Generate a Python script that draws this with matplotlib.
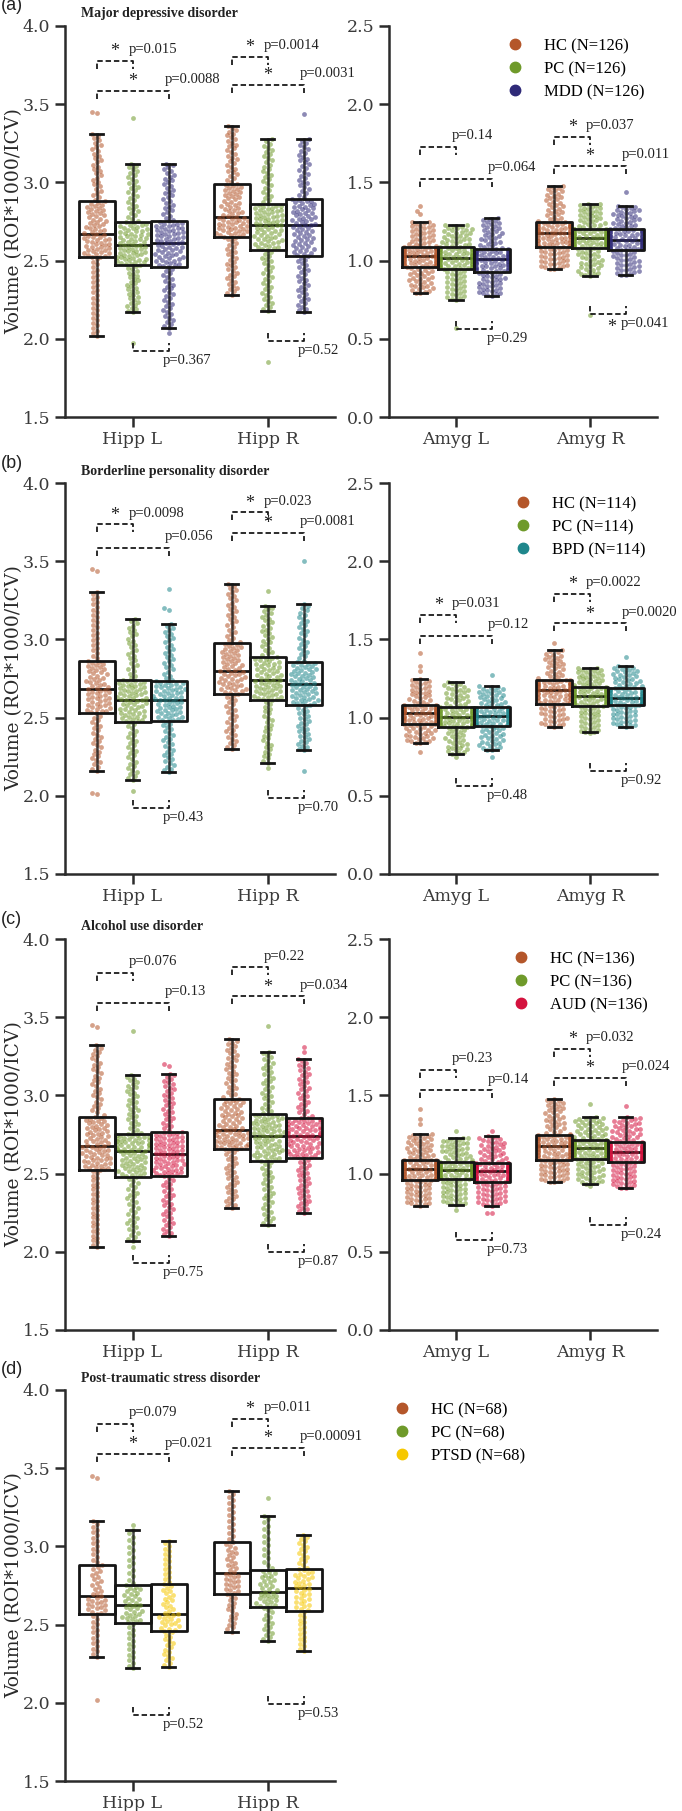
import numpy as np
import matplotlib.pyplot as plt
from matplotlib.lines import Line2D

W, H = 682, 1811

# ---- data ----
panel_letters = ["(a)", "(b)", "(c)", "(d)"]
panel_titles = ["Major depressive disorder", "Borderline personality disorder",
                "Alcohol use disorder", "Post-traumatic stress disorder"]
patient_groups = ["MDD", "BPD", "AUD", "PTSD"]
sample_sizes = [126, 114, 136, 68]
hipp_regions = ["Hipp L", "Hipp R"]
amyg_regions = ["Amyg L", "Amyg R"]

hc_color = "#b4562a"
pc_color = "#6f9a2a"
patient_colors = ["#2f2a78", "#1f878c", "#d4123e", "#f6c800"]

# box stats per group (HC, PC, patient): whisker low, Q1, median, Q3, whisker high
mdd_hipp_l = [(2.02, 2.52, 2.67, 2.88, 3.31), (2.17, 2.47, 2.60, 2.745, 3.12), (2.07, 2.46, 2.615, 2.75, 3.12)]
mdd_hipp_r = [(2.28, 2.65, 2.78, 2.99, 3.36), (2.18, 2.57, 2.725, 2.86, 3.275), (2.17, 2.53, 2.725, 2.895, 3.275)]
mdd_amyg_l = [(0.79, 0.96, 1.03, 1.09, 1.25), (0.75, 0.945, 1.015, 1.085, 1.23), (0.775, 0.93, 1.01, 1.075, 1.27)]
mdd_amyg_r = [(0.945, 1.085, 1.175, 1.25, 1.48), (0.90, 1.08, 1.145, 1.205, 1.365), (0.905, 1.07, 1.13, 1.20, 1.35)]

bpd_hipp_l = [(2.16, 2.53, 2.68, 2.86, 3.305), (2.10, 2.47, 2.615, 2.74, 3.13), (2.15, 2.48, 2.615, 2.735, 3.10)]
bpd_hipp_r = [(2.30, 2.65, 2.80, 2.98, 3.355), (2.21, 2.61, 2.74, 2.89, 3.215), (2.29, 2.58, 2.715, 2.855, 3.225)]
bpd_amyg_l = [(0.835, 0.96, 1.03, 1.08, 1.245), (0.765, 0.94, 1.005, 1.065, 1.225), (0.79, 0.945, 1.01, 1.065, 1.20)]
bpd_amyg_r = [(0.94, 1.09, 1.175, 1.24, 1.43), (0.905, 1.075, 1.14, 1.195, 1.32), (0.94, 1.08, 1.125, 1.19, 1.33)]

aud_hipp_l = [(2.03, 2.52, 2.675, 2.86, 3.32), (2.07, 2.48, 2.645, 2.755, 3.13), (2.10, 2.485, 2.625, 2.765, 3.14)]
aud_hipp_r = [(2.28, 2.655, 2.78, 2.98, 3.36), (2.17, 2.58, 2.74, 2.88, 3.28), (2.25, 2.60, 2.74, 2.855, 3.23)]
aud_amyg_l = [(0.795, 0.96, 1.03, 1.09, 1.255), (0.80, 0.965, 1.025, 1.075, 1.23), (0.795, 0.945, 1.015, 1.07, 1.24)]
aud_amyg_r = [(0.945, 1.09, 1.175, 1.25, 1.48), (0.935, 1.095, 1.165, 1.215, 1.36), (0.905, 1.075, 1.135, 1.20, 1.36)]

ptsd_hipp_l = [(2.295, 2.57, 2.68, 2.88, 3.16), (2.22, 2.51, 2.625, 2.755, 3.105), (2.23, 2.46, 2.57, 2.76, 3.035)]
ptsd_hipp_r = [(2.455, 2.695, 2.83, 3.03, 3.355), (2.395, 2.61, 2.71, 2.85, 3.195), (2.33, 2.59, 2.735, 2.855, 3.075)]

# points outside the whiskers, per group
mdd_out_hipp_l = [[3.45, 3.445], [3.41, 1.97], [2.04]]
mdd_out_hipp_r = [[], [1.85], [3.44]]
mdd_out_amyg_l = [[1.35, 1.32, 1.30], [0.57], []]
mdd_out_amyg_r = [[], [0.65], [1.44]]
bpd_out_hipp_l = [[3.45, 3.44, 2.02, 2.01], [2.03], [3.32, 3.20, 3.19]]
bpd_out_hipp_r = [[], [3.31, 2.18], [3.50, 2.16]]
bpd_out_amyg_l = [[1.41, 1.33, 1.30, 0.78], [0.75], [1.27, 0.75]]
bpd_out_amyg_r = [[1.475], [0.90], [1.39]]
aud_out_hipp_l = [[3.45, 3.44], [3.41, 2.03], [3.20, 3.19]]
aud_out_hipp_r = [[], [3.445], [3.31, 3.28]]
aud_out_amyg_l = [[1.41, 1.35, 1.32], [1.27, 0.77], [1.27, 0.75, 0.75]]
aud_out_amyg_r = [[], [1.445, 0.92], [1.435]]
ptsd_out_hipp_l = [[3.45, 3.44, 2.02], [3.14], []]
ptsd_out_hipp_r = [[], [3.31], []]

# comparison brackets: (level, p text) for HC-PC, HC-patient, PC-patient
mdd_br_hipp_l = [(3.776, "p=0.015"), (3.586, "p=0.0088"), (1.922, "p=0.367")]
mdd_br_hipp_r = [(3.804, "p=0.0014"), (3.623, "p=0.0031"), (1.988, "p=0.52")]
mdd_br_amyg_l = [(1.728, "p=0.14"), (1.522, "p=0.064"), (0.563, "p=0.29")]
mdd_br_amyg_r = [(1.792, "p=0.037"), (1.605, "p=0.011"), (0.659, "p=0.041")]
bpd_br_hipp_l = [(3.736, "p=0.0098"), (3.586, "p=0.056"), (1.920, "p=0.43")]
bpd_br_hipp_r = [(3.812, "p=0.023"), (3.682, "p=0.0081"), (1.984, "p=0.70")]
bpd_br_amyg_l = [(1.656, "p=0.031"), (1.522, "p=0.12"), (0.565, "p=0.48")]
bpd_br_amyg_r = [(1.790, "p=0.0022"), (1.603, "p=0.0020"), (0.659, "p=0.92")]
aud_br_hipp_l = [(3.783, "p=0.076"), (3.591, "p=0.13"), (1.928, "p=0.75")]
aud_br_hipp_r = [(3.818, "p=0.22"), (3.633, "p=0.034"), (1.999, "p=0.87")]
aud_br_amyg_l = [(1.664, "p=0.23"), (1.532, "p=0.14"), (0.577, "p=0.73")]
aud_br_amyg_r = [(1.799, "p=0.032"), (1.611, "p=0.024"), (0.669, "p=0.24")]
ptsd_br_hipp_l = [(3.783, "p=0.079"), (3.589, "p=0.021"), (1.922, "p=0.52")]
ptsd_br_hipp_r = [(3.815, "p=0.011"), (3.631, "p=0.00091"), (1.990, "p=0.53")]

hipp_boxes = [(mdd_hipp_l, mdd_hipp_r), (bpd_hipp_l, bpd_hipp_r), (aud_hipp_l, aud_hipp_r), (ptsd_hipp_l, ptsd_hipp_r)]
amyg_boxes = [(mdd_amyg_l, mdd_amyg_r), (bpd_amyg_l, bpd_amyg_r), (aud_amyg_l, aud_amyg_r), None]
hipp_out = [(mdd_out_hipp_l, mdd_out_hipp_r), (bpd_out_hipp_l, bpd_out_hipp_r),
            (aud_out_hipp_l, aud_out_hipp_r), (ptsd_out_hipp_l, ptsd_out_hipp_r)]
amyg_out = [(mdd_out_amyg_l, mdd_out_amyg_r), (bpd_out_amyg_l, bpd_out_amyg_r), (aud_out_amyg_l, aud_out_amyg_r), None]
hipp_br = [(mdd_br_hipp_l, mdd_br_hipp_r), (bpd_br_hipp_l, bpd_br_hipp_r),
           (aud_br_hipp_l, aud_br_hipp_r), (ptsd_br_hipp_l, ptsd_br_hipp_r)]
amyg_br = [(mdd_br_amyg_l, mdd_br_amyg_r), (bpd_br_amyg_l, bpd_br_amyg_r), (aud_br_amyg_l, aud_br_amyg_r), None]

# ---- layout (pixels) ----
panel_tops = [26, 483, 939, 1390]
ax_h = 391
left_x, left_w = 65, 270
right_x, right_w = 389, 268
legend_anchor = [(0.44, 0.969), (0.47, 0.967), (0.463, 0.969), (0.019, 0.969)]

serif_tick = "DejaVu Serif"
times = "Liberation Serif"
ink = "#2b2b2b"
dodge = 0.8 / 3
yppu = ax_h / 2.5


def px_axes(fig, x, top, w, h):
    return fig.add_axes([x / W, 1 - (top + h) / H, w / W, h / H])


def swarm_x(vals, diam, half_w):
    # simple beeswarm in pixel space
    order = np.argsort(vals)
    xs = np.zeros(len(vals))
    placed = []
    for i in order:
        y = vals[i]
        near = [(px, py) for px, py in placed if abs(py - y) < diam]
        cands = [0.0]
        for px, py in near:
            dx = np.sqrt(diam ** 2 - (py - y) ** 2)
            cands += [px - dx, px + dx]
        cands.sort(key=abs)
        best = cands[0]
        for c in cands:
            if all((c - px) ** 2 + (y - py) ** 2 >= diam ** 2 - 1e-6 for px, py in near):
                best = c
                break
        best = max(-half_w, min(half_w, best))
        xs[i] = best
        placed.append((best, y))
    return xs


def group_values(stats, outliers, n):
    # spread the N samples over the read five-number summary
    n_in = n - len(outliers)
    q = np.linspace(0, 1, n_in)
    vals = np.interp(q, [0, 0.25, 0.5, 0.75, 1.0], stats)
    return np.concatenate([vals, outliers])


def draw_region(ax, pos, stats, outliers, colors, n, xppu):
    offs = [-dodge, 0, dodge]
    for k in range(3):
        lo, q1, med, q3, hi = stats[k]
        x0 = pos + offs[k]
        bstat = dict(med=med, q1=q1, q3=q3, whislo=lo, whishi=hi, fliers=[])
        art = ax.bxp([bstat], positions=[x0], widths=dodge, showfliers=False,
                     manage_ticks=False, capwidths=[0.1])
        for b in art["boxes"]:
            b.set(color="#151515", lw=2.0, zorder=3)
        for c in art["caps"]:
            c.set(color="#151515", lw=2.0, zorder=3)
        for wk in art["whiskers"]:
            wk.set(color="#151515", lw=1.8, zorder=2.5, alpha=0.8)
        for m in art["medians"]:
            m.set(color="#151515", lw=2.0, zorder=1)
        vals = group_values(stats[k], outliers[k], n)
        xs = swarm_x(vals * yppu, 4.6, dodge / 2 * xppu - 2)
        ax.scatter(x0 + xs / xppu, vals, s=12, color=colors[k], alpha=0.55,
                   linewidths=0, zorder=2)


def draw_brackets(ax, pos, brs):
    leg = 8 / yppu
    ls = (0, (3, 1.6))
    pairs = [(pos - dodge, pos), (pos - dodge, pos + dodge), (pos, pos + dodge)]
    for j, ((lvl, ptxt), (xa, xb)) in enumerate(zip(brs, pairs)):
        sig = float(ptxt.split("=")[1]) < 0.05
        if j < 2:
            ax.plot([xa, xa, xb, xb], [lvl - leg, lvl, lvl, lvl - leg], ls=ls,
                    color="#1a1a1a", lw=1.3, clip_on=False)
            ax.text(xb - 0.03, lvl + 0.03, ptxt, ha="left", va="bottom",
                    fontsize=10.5, family=times, color="#222")
            if sig:
                ax.text((xa + xb) / 2, lvl + 0.005, "*", ha="center", va="bottom",
                        fontsize=13, family=times, color="#222")
        else:
            ax.plot([xa, xa, xb, xb], [lvl + leg, lvl, lvl, lvl + leg], ls=ls,
                    color="#1a1a1a", lw=1.3, clip_on=False)
            ax.text(xb - 0.04, lvl - 0.02, ptxt, ha="left", va="top",
                    fontsize=10.5, family=times, color="#222")
            if sig:
                ax.text(xb - 0.07, lvl - 0.03, "*", ha="right", va="top",
                        fontsize=13, family=times, color="#222")


def style_axes(ax, ylim, labels):
    ax.set_xlim(-0.5, 1.5)
    ax.set_ylim(*ylim)
    ticks = np.arange(ylim[0], ylim[1] + 0.01, 0.5)
    ax.set_yticks(ticks)
    ax.set_yticklabels([f"{v:.1f}" for v in ticks])
    ax.set_xticks([0, 1])
    ax.set_xticklabels(labels)
    for s in ["top", "right"]:
        ax.spines[s].set_visible(False)
    for s in ["left", "bottom"]:
        ax.spines[s].set_color(ink)
        ax.spines[s].set_linewidth(1.8)
    ax.tick_params(colors=ink, width=1.8, length=7, labelsize=12.5)
    ax.tick_params(axis="x", pad=3)
    for t in ax.get_xticklabels() + ax.get_yticklabels():
        t.set_family(serif_tick)
        t.set_color("#3a3a3a")


fig = plt.figure(figsize=(W / 100, H / 100), dpi=100)

for p in range(4):
    top = panel_tops[p]
    n = sample_sizes[p]
    colors = [hc_color, pc_color, patient_colors[p]]

    axl = px_axes(fig, left_x, top, left_w, ax_h)
    for r in range(2):
        draw_region(axl, r, hipp_boxes[p][r], hipp_out[p][r], colors, n, left_w / 2)
        draw_brackets(axl, r, hipp_br[p][r])
    style_axes(axl, (1.5, 4.0), hipp_regions)
    axl.set_ylabel("Volume (ROI*1000/ICV)", family=serif_tick, fontsize=13.5,
                   color="#2a2a2a")
    axl.yaxis.label.set_va("center")
    axl.yaxis.set_label_coords((14 - left_x) / left_w, 0.5)

    axr = px_axes(fig, right_x, top, right_w, ax_h)
    if amyg_boxes[p] is not None:
        for r in range(2):
            draw_region(axr, r, amyg_boxes[p][r], amyg_out[p][r], colors, n, right_w / 2)
            draw_brackets(axr, r, amyg_br[p][r])
        style_axes(axr, (0.0, 2.5), amyg_regions)
    else:
        axr.axis("off")

    handles = [Line2D([], [], marker="o", ls="", color=c, markersize=7.5) for c in colors]
    names = [f"HC (N={n})", f"PC (N={n})", f"{patient_groups[p]} (N={n})"]
    axr.legend(handles, names, loc="upper left", bbox_to_anchor=legend_anchor[p],
               frameon=False, handlelength=1.0, handletextpad=1.2, labelspacing=0.42,
               borderpad=0, borderaxespad=0, prop={"family": times, "size": 12})

    fig.text(1 / W, 1 - (top - 20) / H, panel_letters[p], family="Liberation Sans",
             fontsize=13, ha="left", va="center", color="#222")
    fig.text(81 / W, 1 - (top - 12) / H, panel_titles[p], family=times,
             fontweight="bold", fontsize=10, ha="left", va="center", color="#222")

fig.savefig("out.png", dpi=100)
